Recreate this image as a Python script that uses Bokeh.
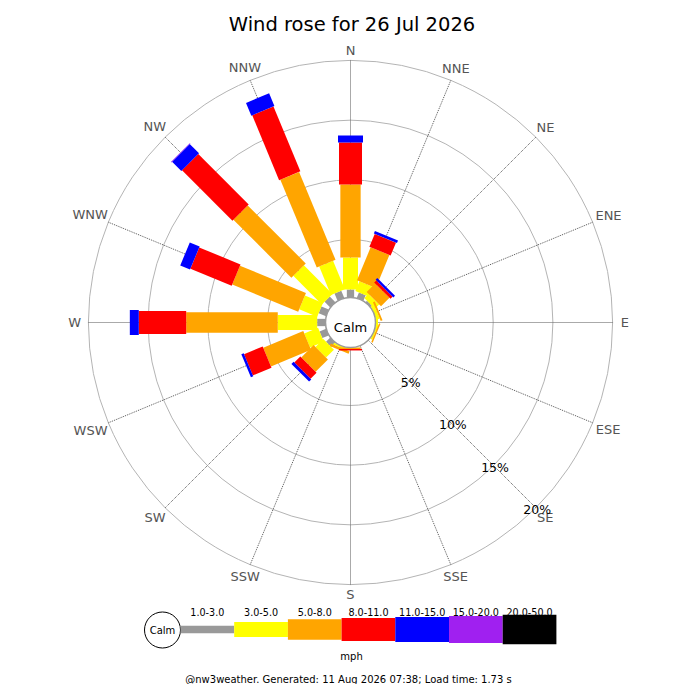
import math
from bokeh.plotting import figure
from bokeh.models import Range1d
from bokeh.core.properties import value
from bokeh.embed import file_html
from bokeh.resources import INLINE

# ---------------- data ----------------
TITLE = "Wind rose for 26 Jul 2026"
FOOTER = "@nw3weather. Generated: 11 Aug 2026 07:38; Load time: 1.73 s"
DIRECTIONS = ["N", "NNE", "NE", "ENE", "E", "ESE", "SE", "SSE",
              "S", "SSW", "SW", "WSW", "W", "WNW", "NW", "NNW"]
SPEED_BINS = ["1.0-3.0", "3.0-5.0", "5.0-8.0", "8.0-11.0",
              "11.0-15.0", "15.0-20.0", "20.0-50.0"]
SPEED_UNIT = "mph"
CALM_LABEL = "Calm"
RING_PCTS = [5, 10, 15, 20]
RING_LABELS = ["5%", "10%", "15%", "20%"]

# frequency (%) per direction, per speed class
freq_1_3 = [0.81, 0.64, 0.31, 0.0, 0.0, 0.0, 0.0, 0.0,
            0.0, 0.0, 0.64, 0.73, 0.84, 0.81, 0.81, 0.81]
freq_3_5 = [2.68, 0.88, 0.50, 0.44, 0.35, 0.29, 0.0, 0.0,
            0.0, 0.31, 0.93, 1.25, 3.30, 1.63, 3.39, 2.57]
freq_5_8 = [6.12, 2.99, 1.01, 0.16, 0.0, 0.12, 0.0, 0.0,
            0.27, 0.21, 1.46, 3.63, 7.67, 5.98, 6.87, 7.97]
freq_8_11 = [3.51, 1.17, 0.25, 0.0, 0.0, 0.0, 0.0, 0.0,
             0.12, 0.0, 0.71, 1.69, 3.97, 3.74, 5.97, 5.88]
freq_11_15 = [0.59, 0.24, 0.20, 0.0, 0.0, 0.0, 0.0, 0.0,
              0.0, 0.0, 0.26, 0.21, 0.75, 0.89, 1.10, 1.16]
freq_15_20 = [0.0, 0.0, 0.0, 0.0, 0.0, 0.0, 0.0, 0.0,
              0.0, 0.0, 0.0, 0.0, 0.0, 0.0, 0.05, 0.0]
freq_20_50 = [0.0] * 16

SERIES = [freq_1_3, freq_3_5, freq_5_8, freq_8_11, freq_11_15, freq_15_20, freq_20_50]

# ---------------- style / layout ----------------
COLORS = ["#999999", "#ffff00", "#ffa500", "#ff0000", "#0000ff", "#a020f0", "#000000"]
BAR_THICK = [7.3, 15, 20.3, 23, 25, 27, 29.3]
FONT = "DejaVu Sans"
H = 700.0                      # data y = H - picture y
CX, CY = 350.0, H - 322.0      # rose centre
ZERO_R = 23.3                  # radius of 0 %
PX_PER_PCT = 11.94
CALM_R = 25.0


def r_of(p):
    return ZERO_R + PX_PER_PCT * p


def unit(i):
    th = math.radians(22.5 * i)
    return math.sin(th), math.cos(th), th


p = figure(width=684, height=684, x_range=Range1d(0, 684), y_range=Range1d(16, 700),
           output_backend="svg", toolbar_location=None,
           x_axis_type=None, y_axis_type=None, min_border=0,
           outline_line_color=None, background_fill_color="white",
           border_fill_color="white")
p.grid.visible = False

# rings
ring_r = [r_of(v) for v in RING_PCTS]
p.circle(x=[CX] * len(ring_r), y=[CY] * len(ring_r), radius=ring_r,
         fill_color=None, line_color="#b4b4b4", line_width=1)

# spokes
sx0, sy0, sx1, sy1 = [], [], [], []
for i in range(len(DIRECTIONS)):
    ux, uy, _ = unit(i)
    sx0.append(CX + CALM_R * ux); sy0.append(CY + CALM_R * uy)
    sx1.append(CX + ring_r[-1] * ux); sy1.append(CY + ring_r[-1] * uy)
p.segment(x0=sx0, y0=sy0, x1=sx1, y1=sy1, line_color="#555555",
          line_width=1, line_dash="1 1")

# bars
cum = [0.0] * len(DIRECTIONS)
for k, series in enumerate(SERIES):
    xs, ys, ls, angs = [], [], [], []
    for i, v in enumerate(series):
        start = CALM_R if cum[i] == 0 else max(CALM_R, r_of(cum[i]))
        cum[i] += v
        end = r_of(cum[i])
        if v <= 0 or end <= start:
            continue
        ux, uy, th = unit(i)
        mid = (start + end) / 2
        xs.append(CX + mid * ux); ys.append(CY + mid * uy)
        ls.append(end - start); angs.append(math.pi / 2 - th)
    if xs:
        p.rect(x=xs, y=ys, width=ls, height=BAR_THICK[k], angle=angs,
               fill_color=COLORS[k], line_color=None)

# calm circle
p.circle(x=[CX], y=[CY], radius=CALM_R, fill_color="white",
         line_color="#9a9a9a", line_width=1.5)
p.text(x=[CX], y=[H - 327.0], text=[CALM_LABEL], text_font=value(FONT),
       text_font_size=value("13px"), text_align="center",
       text_baseline="alphabetic", text_color="black")

# direction labels
ADV = {"N": 0.748, "E": 0.632, "S": 0.635, "W": 0.989}
lx, ly = [], []
for i, d in enumerate(DIRECTIONS):
    ux, uy, th = unit(i)
    w = sum(ADV[c] for c in d) * 13
    rr = 272 + 0.3 * w * abs(math.sin(th))
    lx.append(CX + rr * ux); ly.append(CY + rr * uy)
p.text(x=lx, y=ly, text=DIRECTIONS, text_font=value(FONT),
       text_font_size=value("13px"), text_align="center",
       text_baseline="middle", text_color="#555555")

# ring labels along SE
se = math.radians(135)
p.text(x=[CX + (r + 2) * math.sin(se) for r in ring_r],
       y=[CY + (r + 2) * math.cos(se) for r in ring_r],
       text=RING_LABELS, text_font=value(FONT), text_font_size=value("12.5px"),
       text_align="center", text_baseline="middle", text_color="black")

# title
p.text(x=[351.5], y=[H - 23.5], text=[TITLE], text_font=value(FONT),
       text_font_size=value("19.5px"), text_align="center",
       text_baseline="alphabetic", text_color="black")

# legend
LEG_Y = H - 629.0
LEG_X0 = 180.0
LEG_W = 53.7
p.circle(x=[162.0], y=[H - 629.5], radius=18, fill_color="white",
         line_color="black", line_width=1)
p.text(x=[162.0], y=[H - 629.5], text=[CALM_LABEL], text_font=value(FONT),
       text_font_size=value("10px"), text_align="center",
       text_baseline="middle", text_color="black")
leg_x = [LEG_X0 + LEG_W * (k + 0.5) for k in range(len(SPEED_BINS))]
p.rect(x=leg_x, y=[LEG_Y] * len(leg_x), width=LEG_W, height=BAR_THICK,
       fill_color=COLORS, line_color=None)
p.text(x=leg_x, y=[H - 611.5] * len(leg_x), text=SPEED_BINS, text_font=value(FONT),
       text_font_size=value("9.6px"), text_align="center",
       text_baseline="alphabetic", text_color="black")
p.text(x=[351.0], y=[H - 656.0], text=[SPEED_UNIT], text_font=value(FONT),
       text_font_size=value("10px"), text_align="center",
       text_baseline="alphabetic", text_color="black")

# footer (raised to stay inside the page)
p.text(x=[348.0], y=[H - 679.0], text=[FOOTER], text_font=value(FONT),
       text_font_size=value("10px"), text_align="center",
       text_baseline="alphabetic", text_color="black")

open("out.html", "w").write(file_html(p, INLINE))
